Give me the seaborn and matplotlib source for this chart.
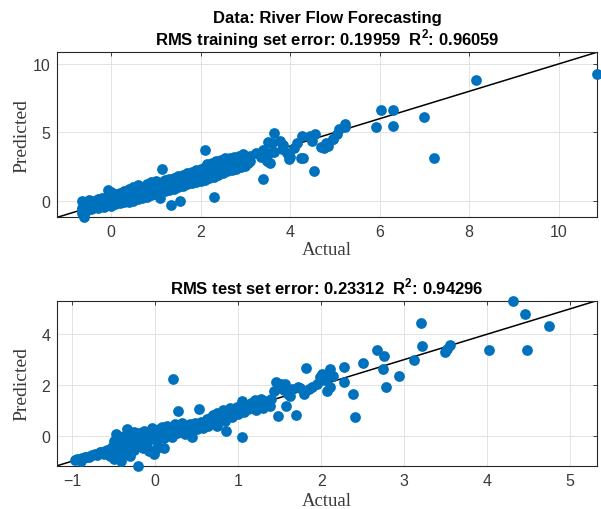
import matplotlib
matplotlib.use("Agg")
import matplotlib.pyplot as plt
import pandas as pd
import seaborn as sns

# ---- training set: actual vs predicted river flow ----
train_actual = [
    -0.65, -0.65, -0.65, -0.65, -0.60, -0.60, -0.60, -0.55, -0.55, -0.55,
    -0.50, -0.50, -0.50, -0.45, -0.45, -0.40, -0.40, -0.40, -0.35, -0.35,
    -0.30, -0.30, -0.30, -0.25, -0.25, -0.20, -0.20, -0.20, -0.15, -0.15,
    -0.10, -0.10, -0.10, -0.07, -0.05, -0.05, 0.00, 0.00, 0.00, 0.00,
    0.05, 0.05, 0.10, 0.10, 0.10, 0.15, 0.15, 0.20, 0.20, 0.20,
    0.25, 0.25, 0.30, 0.30, 0.30, 0.35, 0.35, 0.40, 0.40, 0.40,
    0.45, 0.45, 0.50, 0.50, 0.50, 0.55, 0.55, 0.60, 0.60, 0.60,
    0.65, 0.65, 0.70, 0.70, 0.70, 0.75, 0.75, 0.80, 0.80, 0.80,
    0.85, 0.85, 0.90, 0.90, 0.90, 0.95, 0.95, 1.00, 1.00, 1.00,
    1.05, 1.05, 1.10, 1.10, 1.10, 1.15, 1.15, 1.15, 1.20, 1.20, 1.20,
    1.25, 1.25, 1.30, 1.30, 1.30, 1.35, 1.35, 1.35, 1.40, 1.40, 1.40,
    1.45, 1.45, 1.50, 1.50, 1.50, 1.55, 1.55, 1.55, 1.60, 1.60, 1.60,
    1.65, 1.65, 1.70, 1.70, 1.70, 1.75, 1.75, 1.80, 1.80, 1.80,
    1.85, 1.85, 1.90, 1.90, 1.90, 1.95, 1.95, 2.00, 2.00, 2.00,
    2.05, 2.05, 2.10, 2.10, 2.10, 2.10, 2.15, 2.15, 2.15, 2.20, 2.20, 2.20,
    2.25, 2.25, 2.25, 2.30, 2.30, 2.30, 2.30, 2.35, 2.35, 2.35,
    2.40, 2.40, 2.40, 2.45, 2.45, 2.45, 2.50, 2.50, 2.50, 2.55, 2.55, 2.55,
    2.60, 2.60, 2.60, 2.65, 2.65, 2.65, 2.70, 2.70, 2.70, 2.75, 2.75, 2.75,
    2.80, 2.80, 2.80, 2.85, 2.85, 2.85, 2.90, 2.90, 2.90, 2.95, 2.95, 2.95,
    3.00, 3.00, 3.00, 3.05, 3.05, 3.10, 3.10,
    3.25, 3.33, 3.35, 3.39, 3.40, 3.45, 3.48, 3.50, 3.52, 3.55, 3.60, 3.63, 3.65,
    3.78, 3.81, 3.85, 3.93, 3.97, 4.00, 4.08, 4.15, 4.24, 4.26, 4.30,
    4.45, 4.50, 4.53, 4.56, 4.70, 4.75, 4.80, 4.84, 4.95, 4.97, 5.05, 5.09, 5.22, 5.22,
    5.91, 6.04, 6.29, 6.31, 6.99, 7.21, 8.15, 10.85,
]
train_predicted = [
    -0.90, -0.50, 0.00, -0.70, -1.20, -0.30, -0.60, -0.40, -0.75, -0.10,
    -0.55, -0.20, 0.05, -0.60, -0.35, -0.30, -0.50, 0.00, -0.45, -0.15,
    -0.20, -0.55, 0.15, -0.40, 0.00, -0.30, -0.05, 0.20, -0.10, -0.45,
    0.00, -0.30, 0.25, 0.80, -0.20, 0.10, -0.35, 0.00, 0.35, 0.65,
    -0.10, 0.20, -0.25, 0.15, 0.50, 0.00, 0.35, -0.15, 0.30, 0.60,
    0.05, 0.45, -0.10, 0.25, 0.75, 0.10, 0.50, -0.05, 0.30, 0.85,
    0.15, 0.55, 0.00, 0.40, 1.00, 0.30, 0.70, 0.10, 0.55, 1.15,
    0.35, 0.80, 0.20, 0.60, 1.00, 0.45, 0.85, 0.30, 0.75, 1.20,
    0.55, 0.95, 0.40, 0.85, 1.35, 0.65, 1.05, 0.50, 0.95, 1.45,
    0.70, 1.10, 0.20, 0.60, 1.20, 0.80, 1.40, 2.30, 0.70, 1.10, 1.55,
    0.95, 1.30, 0.80, 1.20, 1.60, -0.30, 1.00, 1.45, 0.90, 1.30, 1.70,
    1.15, 1.55, 1.00, 1.40, 1.85, 0.00, 1.25, 1.65, 1.10, 1.50, 1.90,
    1.35, 1.75, 1.20, 1.60, 2.00, 1.45, 1.85, 1.30, 1.70, 2.10,
    1.55, 1.95, 1.40, 1.80, 2.25, 1.60, 2.05, 1.45, 1.90, 2.35,
    1.75, 2.20, 1.55, 2.00, 2.50, 3.70, 1.80, 2.30, 2.70, 1.65, 2.10, 2.55,
    1.90, 2.40, 2.80, 0.30, 1.75, 2.20, 2.65, 2.00, 2.45, 2.90,
    1.90, 2.30, 2.75, 2.10, 2.55, 3.00, 2.05, 2.45, 2.85, 2.25, 2.65, 3.10,
    2.15, 2.55, 2.95, 2.35, 2.75, 3.15, 2.25, 2.65, 3.05, 2.45, 2.85, 3.20,
    2.35, 2.75, 3.10, 2.55, 2.95, 3.30, 2.45, 2.85, 3.20, 2.65, 3.05, 3.40,
    2.55, 2.95, 3.30, 2.75, 3.10, 2.90, 3.30,
    3.50, 3.40, 3.20, 1.58, 3.70, 3.30, 2.90, 4.30, 3.52, 2.80, 4.25, 4.98, 3.60,
    4.37, 3.77, 4.10, 3.50, 3.03, 3.20, 3.89, 4.25, 3.15, 4.74, 3.10,
    4.74, 4.40, 2.18, 4.86, 3.90, 3.88, 4.20, 4.00, 4.50, 4.49, 4.85, 5.22, 5.40, 5.65,
    5.40, 6.67, 6.60, 5.50, 6.16, 3.10, 8.86, 9.25,
]

# ---- test set: actual vs predicted river flow ----
test_actual = [
    -0.97, -0.94, -0.91, -0.88, -0.85, -0.82, -0.79, -0.76, -0.73, -0.70,
    -0.67, -0.64, -0.61, -0.58, -0.90, -0.80, -0.70, -0.62,
    -0.55, -0.52, -0.50, -0.50, -0.48, -0.47, -0.45, -0.43, -0.42, -0.41,
    -0.40, -0.38, -0.37, -0.35, -0.34, -0.33, -0.31, -0.30, -0.29, -0.27,
    -0.26, -0.25, -0.23, -0.21, -0.20, -0.19, -0.17, -0.15, -0.14, -0.12,
    -0.10, -0.08, -0.07, -0.05, -0.04, -0.02, 0.00, 0.01, 0.02, 0.04,
    0.06, 0.08, 0.10, 0.11, 0.12, 0.14, 0.16, 0.18, 0.20, 0.22,
    0.22, 0.24, 0.26, 0.27, 0.28, 0.30, 0.32, 0.34, 0.36, 0.38,
    0.40, 0.42, 0.44, 0.46, 0.48, 0.50, 0.52, 0.53, 0.55, 0.57,
    0.60, 0.62, 0.64, 0.66, 0.68, 0.70, 0.72, 0.74, 0.75, 0.77,
    0.80, 0.82, 0.84, 0.85, 0.87, 0.90, 0.92, 0.95, 0.98, 1.00,
    1.02, 1.05, 1.05, 1.07, 1.10, 1.12, 1.15, 1.18, 1.20, 1.22,
    1.25, 1.27, 1.30, 1.32, 1.35, 1.38, 1.40, 1.43, 1.46, 1.48,
    1.50, 1.52, 1.55, 1.56, 1.58, 1.60, 1.62, 1.65, 1.70, 1.72,
    1.75, 1.79, 1.82, 1.85, 1.89, 1.95, 1.98, 2.01, 2.05, 2.07,
    2.09, 2.11, 2.11, 2.14, 2.27, 2.28, 2.38, 2.41, 2.50, 2.67,
    2.74, 2.76, 2.78, 2.94, 3.12, 3.20, 3.22, 3.49, 3.52, 3.55,
    4.02, 4.31, 4.46, 4.48, 4.74,
]
test_predicted = [
    -0.95, -0.93, -0.90, -0.87, -0.85, -0.82, -0.78, -0.76, -0.72, -0.70,
    -0.66, -0.63, -0.60, -0.55, -0.98, -0.85, -0.75, -0.70,
    -0.80, -0.45, -0.90, -0.20, -0.60, 0.05, -0.35, -0.75, -0.10, -0.98,
    -0.50, 0.00, -0.30, -0.65, 0.28, -0.15, -0.45, -0.80, 0.05, -0.30,
    -0.55, 0.15, -0.10, -1.18, -0.40, 0.10, -0.20, -0.50, 0.20, -0.05,
    -0.30, 0.15, -0.62, -0.10, 0.30, -0.72, 0.05, -0.52, -0.20, 0.25,
    0.00, 0.35, -0.10, -0.50, 0.20, 0.40, 0.05, 0.30, -0.05, 2.23,
    0.25, 0.45, 0.10, 0.98, 0.30, 0.15, 0.50, 0.25, 0.05, 0.40,
    0.20, 0.45, -0.05, 0.30, 0.50, 0.25, 0.40, 1.05, 0.55, 0.30,
    0.50, 0.65, 0.40, 0.70, 0.55, 0.80, 0.50, 0.40, 0.90, 0.65,
    0.85, 1.00, 0.60, 0.20, 0.80, 1.10, 0.75, 0.95, 1.15, 0.85,
    1.05, -0.03, 1.35, 0.95, 1.20, 1.05, 1.30, 1.10, 1.40, 1.00,
    1.25, 1.45, 1.10, 1.35, 1.20, 1.18, 1.45, 1.78, 2.10, 0.79,
    1.90, 2.05, 1.80, 2.04, 1.18, 1.65, 1.55, 1.85, 0.81, 1.91,
    1.90, 1.64, 2.66, 1.85, 1.91, 2.05, 2.30, 2.43, 2.20, 1.78,
    2.50, 2.63, 1.91, 2.37, 2.13, 2.70, 1.64, 0.72, 2.87, 3.39,
    2.63, 3.16, 1.91, 2.34, 3.00, 4.45, 3.55, 3.30, 3.42, 3.58,
    3.39, 5.32, 4.80, 3.36, 4.34,
]

train_title = r"RMS training set error: 0.19959  R$^{\mathbf{2}}$: 0.96059"
test_title = r"RMS test set error: 0.23312  R$^{\mathbf{2}}$: 0.94296"
suptitle = "Data: River Flow Forecasting"
train_xticks = [0, 2, 4, 6, 8, 10]
train_yticks = [0, 5, 10]
test_xticks = [-1, 0, 1, 2, 3, 4, 5]
test_yticks = [0, 2, 4]

sns.set_style("white")
plt.rcParams["font.family"] = ["Liberation Sans", "DejaVu Sans"]
plt.rcParams["mathtext.fontset"] = "custom"
plt.rcParams["mathtext.rm"] = "Liberation Sans"
plt.rcParams["mathtext.bf"] = "Liberation Sans:bold"

BLUE = "#0072BD"
AXC = "#262626"
LABC = "#3a3a3a"
W, H = 601, 510

fig = plt.figure(figsize=(W / 100, H / 100), dpi=100)


def px_axes(left, top, right, bottom):
    return fig.add_axes([left / W, 1 - bottom / H, (right - left) / W, (bottom - top) / H])


def panel(ax, actual, predicted, xticks, yticks, title, xlabel_y):
    df = pd.DataFrame({"Actual": actual, "Predicted": predicted})
    lo = min(df["Actual"].min(), df["Predicted"].min())
    hi = max(df["Actual"].max(), df["Predicted"].max())
    ax.grid(True, color="#e3e3e3", linewidth=0.7, zorder=0)
    ax.set_axisbelow(True)
    # identity line spanning the data range
    sns.lineplot(x=[lo, hi], y=[lo, hi], color="black", linewidth=1.1, ax=ax, zorder=2)
    sns.scatterplot(data=df, x="Actual", y="Predicted", color=BLUE, s=60,
                    linewidth=0, ax=ax, zorder=3, clip_on=False)
    ax.set_xlim(lo, hi)
    ax.set_ylim(lo, hi)
    ax.set_xticks(xticks)
    ax.set_yticks(yticks)
    ax.tick_params(direction="in", length=3.2, width=0.6, color=AXC,
                   top=True, right=True, labelsize=11.5, labelcolor=LABC)
    ax.tick_params(axis="x", pad=5)
    ax.tick_params(axis="y", pad=5)
    for sp in ax.spines.values():
        sp.set_color(AXC)
        sp.set_linewidth(0.8)
        sp.set_visible(True)
    ax.set_xlabel("Actual", family="Liberation Serif", fontsize=13.5, color=LABC)
    ax.set_ylabel("Predicted", family="Liberation Serif", fontsize=14, color=LABC)
    ax.xaxis.label.set_va("center")
    ax.yaxis.label.set_va("center")
    ax.yaxis.label.set_ha("center")
    ax.xaxis.set_label_coords(0.5, xlabel_y)
    ax.yaxis.set_label_coords(-0.066, 0.5)
    ax.text(0.5, 1.045, title, transform=ax.transAxes, ha="center", va="baseline",
            fontsize=12, fontweight="bold", color="black")


ax1 = px_axes(57.3, 53.3, 596.7, 218.3)
ax2 = px_axes(57.3, 301.7, 596.7, 466.7)
panel(ax1, train_actual, train_predicted, train_xticks, train_yticks, train_title, -0.198)
panel(ax2, test_actual, test_predicted, test_xticks, test_yticks, test_title, -0.208)

fig.text((57.3 + 596.7) / 2 / W, 1 - 23.0 / H, suptitle, ha="center", va="baseline",
         fontsize=12, fontweight="bold", color="black")

fig.savefig("out.png", dpi=100, facecolor="white")
